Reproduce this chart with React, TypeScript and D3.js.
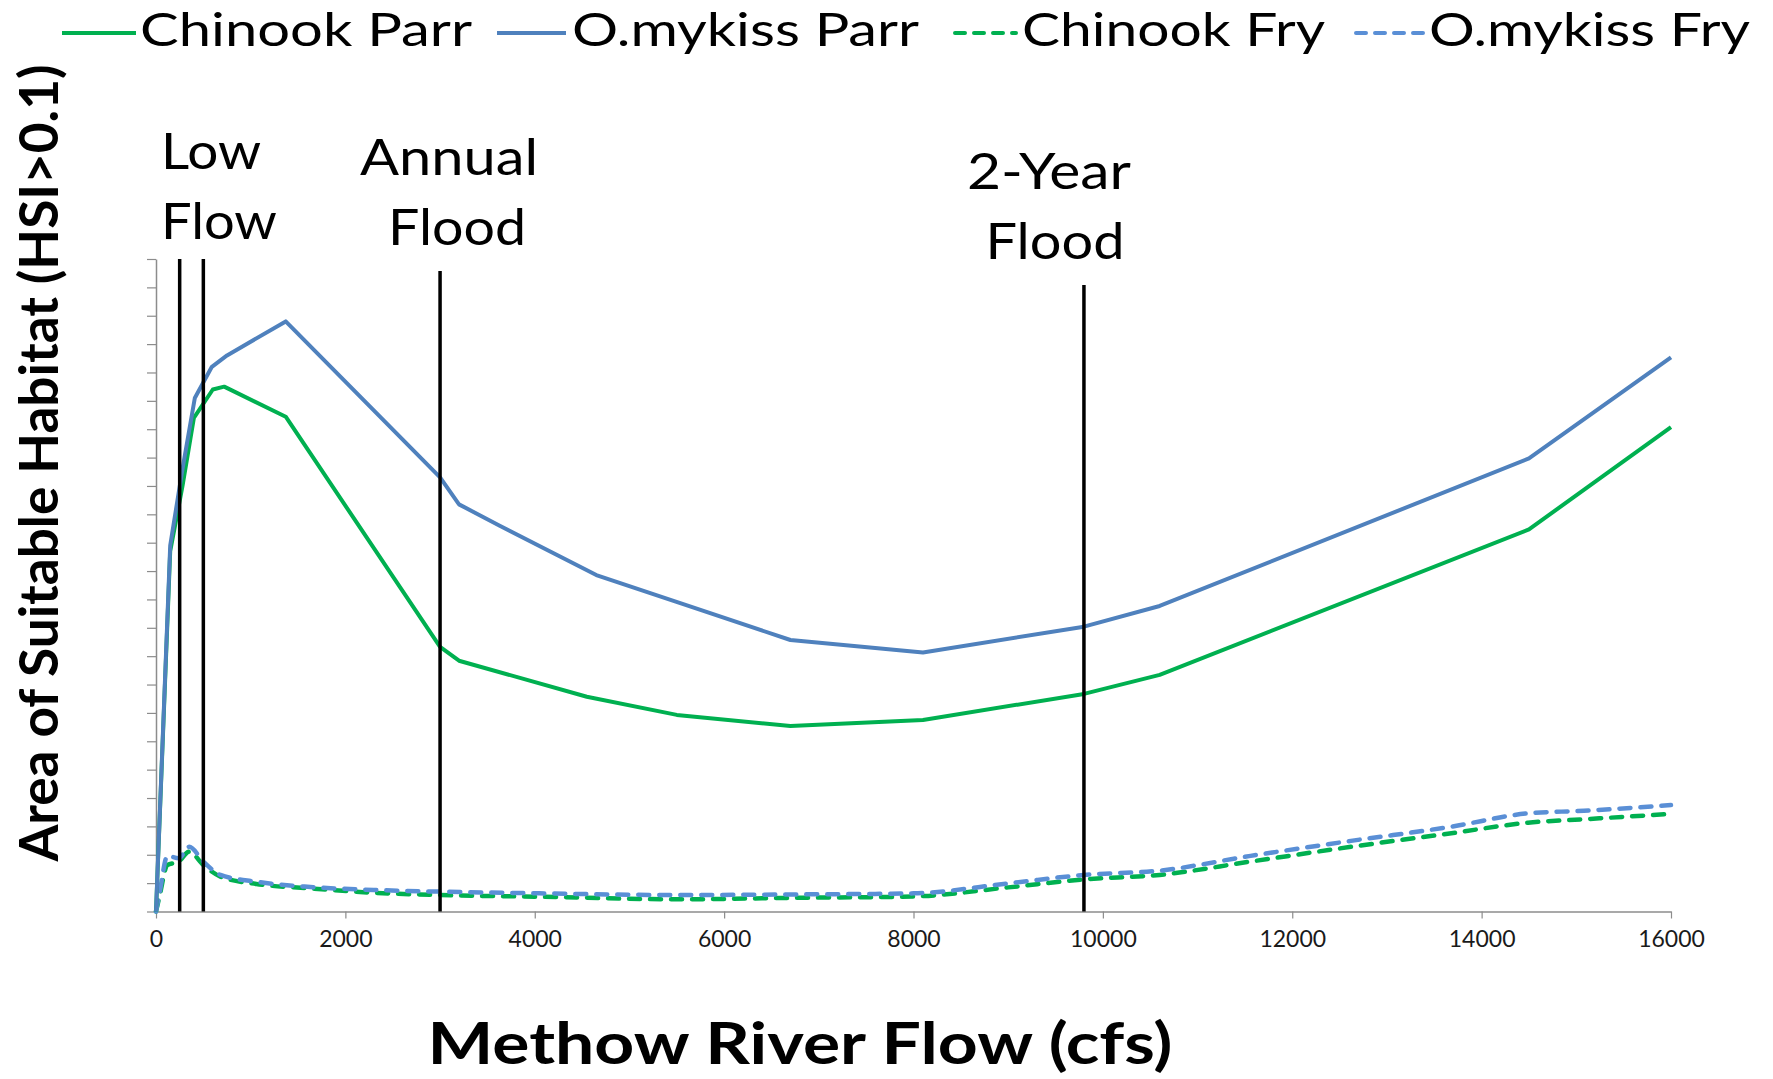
import React, { useEffect, useRef } from 'react';
import * as d3 from 'd3';

// Flow (cfs) sample points
const parrFlowChinook = [0, 150, 280, 400, 600, 720, 1370, 3000, 3200, 4550, 5500, 6700, 8100, 9800, 10600, 14500, 16000];
const chinookParr = [0, 12.7, 15.0, 17.4, 18.4, 18.5, 17.44, 9.33, 8.84, 7.57, 6.93, 6.54, 6.75, 7.67, 8.34, 13.47, 17.07];

const parrFlowMykiss = [0, 150, 280, 410, 590, 750, 1370, 3000, 3200, 3630, 4650, 5600, 6700, 8100, 9800, 10600, 14500, 16000];
const mykissParr = [0, 12.9, 15.6, 18.1, 19.2, 19.6, 20.8, 15.3, 14.35, 13.6, 11.86, 10.8, 9.57, 9.13, 10.04, 10.77, 15.97, 19.53];

const fryFlow = [0, 40, 120, 240, 350, 500, 680, 1060, 1600, 2300, 3000, 4050, 5500, 6700, 8000, 9000, 9800, 10600, 11560, 12620, 13680, 14490, 15080, 16000];
const chinookFry = [0, 0.58, 1.64, 1.76, 2.11, 1.64, 1.23, 0.97, 0.82, 0.66, 0.58, 0.52, 0.43, 0.48, 0.53, 0.85, 1.13, 1.29, 1.76, 2.28, 2.76, 3.13, 3.25, 3.44];
const mykissFry = [0, 0.7, 1.96, 1.88, 2.28, 1.76, 1.29, 1.05, 0.87, 0.76, 0.70, 0.64, 0.58, 0.60, 0.64, 0.99, 1.29, 1.44, 1.96, 2.49, 2.99, 3.46, 3.55, 3.75];

const xTicks = [0, 2000, 4000, 6000, 8000, 10000, 12000, 14000, 16000];

// reference flows
const lowFlows = [250, 500];
const annualFlood = 3000;
const twoYearFlood = 9800;

const GREEN = '#00b050';
const BLUE = '#4f81bd';
const BLUE_DASH = '#5a8fd6';
const AXIS = '#8c8c8c';
const FONT = 'Lato, "Open Sans", sans-serif';

const App: React.FC = () => {
  const svgRef = useRef<SVGSVGElement>(null);

  useEffect(() => {
    if (!svgRef.current) return;
    const svg = d3.select(svgRef.current);
    svg.selectAll('*').remove();

    const x = d3.scaleLinear().domain([0, 16000]).range([156, 1671]);
    const y = d3.scaleLinear().domain([0, 23]).range([911.5, 259]);

    // y axis (no labels, just ticks)
    const gy = svg.append('g')
      .attr('transform', `translate(${x(0)},0)`)
      .call(d3.axisLeft(y).tickValues(d3.range(0, 24)).tickSize(9).tickSizeOuter(0).tickFormat(() => ''));
    gy.select('.domain').attr('stroke', AXIS).attr('stroke-width', 1.5);
    gy.selectAll('.tick line').attr('stroke', AXIS).attr('stroke-width', 1.2);

    // x axis
    const gx = svg.append('g')
      .attr('transform', `translate(0,${y(0)})`)
      .call(d3.axisBottom(x).tickValues(xTicks).tickSize(7).tickSizeOuter(0).tickPadding(12).tickFormat(d => String(d)));
    gx.select('.domain').attr('stroke', AXIS).attr('stroke-width', 1.5);
    gx.selectAll('.tick line').attr('stroke', AXIS).attr('stroke-width', 1.2);
    gx.selectAll('.tick text')
      .attr('fill', '#1a1a1a')
      .style('font-family', FONT)
      .style('font-size', '23px');

    // series
    const line = d3.line<[number, number]>().x(d => x(d[0])).y(d => y(d[1]));
    const smooth = d3.line<[number, number]>().x(d => x(d[0])).y(d => y(d[1])).curve(d3.curveMonotoneX);
    const zip = (a: number[], b: number[]) => a.map((v, i) => [v, b[i]] as [number, number]);

    const series = [
      { pts: zip(fryFlow, chinookFry), color: GREEN, dash: true },
      { pts: zip(fryFlow, mykissFry), color: BLUE_DASH, dash: true },
      { pts: zip(parrFlowChinook, chinookParr), color: GREEN, dash: false },
      { pts: zip(parrFlowMykiss, mykissParr), color: BLUE, dash: false },
    ];
    series.forEach(s => {
      svg.append('path')
        .attr('d', (s.dash ? smooth : line)(s.pts) || '')
        .attr('fill', 'none')
        .attr('stroke', s.color)
        .attr('stroke-width', s.dash ? 4.5 : 4)
        .attr('stroke-linejoin', 'round')
        .attr('stroke-linecap', s.dash ? 'round' : 'butt')
        .attr('stroke-dasharray', s.dash ? '11 10' : null);
    });

    // vertical reference lines
    const refs = [
      ...lowFlows.map(f => ({ flow: f, top: 23 })),
      { flow: annualFlood, top: 22.58 },
      { flow: twoYearFlood, top: 22.08 },
    ];
    svg.selectAll('.ref')
      .data(refs)
      .enter()
      .append('line')
      .attr('x1', d => x(d.flow)).attr('x2', d => x(d.flow))
      .attr('y1', y(0)).attr('y2', d => y(d.top))
      .attr('stroke', '#000')
      .attr('stroke-width', 3.5);

    // annotations
    const notes = [
      { text: 'Low', x: x(0) + 5, y: 169, len: 100, anchor: 'start' },
      { text: 'Flow', x: x(0) + 5, y: 239, len: 116, anchor: 'start' },
      { text: 'Annual', x: x(annualFlood) + 9, y: 175, len: 178, anchor: 'middle' },
      { text: 'Flood', x: x(annualFlood) + 17, y: 245, len: 138, anchor: 'middle' },
      { text: '2-Year', x: x(twoYearFlood) - 35, y: 189, len: 164, anchor: 'middle' },
      { text: 'Flood', x: x(twoYearFlood) - 29, y: 259, len: 139, anchor: 'middle' },
    ];
    svg.selectAll('.note')
      .data(notes)
      .enter()
      .append('text')
      .attr('x', d => d.x)
      .attr('y', d => d.y)
      .attr('text-anchor', d => d.anchor)
      .attr('textLength', d => d.len)
      .attr('lengthAdjust', 'spacingAndGlyphs')
      .style('font-family', FONT)
      .style('font-size', '50px')
      .attr('fill', '#000')
      .text(d => d.text);

    // legend
    const legend = [
      { name: 'Chinook Parr', color: GREEN, dash: false, x0: 62, x1: 136, tx: 140, len: 332 },
      { name: 'O.mykiss Parr', color: BLUE, dash: false, x0: 497, x1: 566, tx: 572, len: 347 },
      { name: 'Chinook Fry', color: GREEN, dash: true, x0: 955, x1: 1016, tx: 1022, len: 303 },
      { name: 'O.mykiss Fry', color: BLUE_DASH, dash: true, x0: 1356, x1: 1423, tx: 1429, len: 321 },
    ];
    const lg = svg.append('g');
    legend.forEach(l => {
      lg.append('line')
        .attr('x1', l.x0).attr('x2', l.x1)
        .attr('y1', 33).attr('y2', 33)
        .attr('stroke', l.color)
        .attr('stroke-width', 4)
        .attr('stroke-linecap', l.dash ? 'round' : 'butt')
        .attr('stroke-dasharray', l.dash ? '10 9' : null);
      lg.append('text')
        .attr('x', l.tx)
        .attr('y', 46)
        .attr('textLength', l.len)
        .attr('lengthAdjust', 'spacingAndGlyphs')
        .style('font-family', FONT)
        .style('font-size', '47px')
        .attr('fill', '#000')
        .text(l.name);
    });

    // axis titles
    svg.append('text')
      .attr('x', 800)
      .attr('y', 1064)
      .attr('text-anchor', 'middle')
      .attr('textLength', 745)
      .attr('lengthAdjust', 'spacingAndGlyphs')
      .style('font-family', FONT)
      .style('font-weight', 'bold')
      .style('font-size', '58px')
      .attr('fill', '#000')
      .text('Methow River Flow (cfs)');

    svg.append('text')
      .attr('transform', 'translate(58,463) rotate(-90)')
      .attr('text-anchor', 'middle')
      .attr('textLength', 797)
      .attr('lengthAdjust', 'spacingAndGlyphs')
      .style('font-family', FONT)
      .style('font-weight', 'bold')
      .style('font-size', '54px')
      .attr('fill', '#000')
      .text('Area of Suitable Habitat (HSI>0.1)');
  }, []);

  return (
    <div style={{ width: 1773, height: 1079, background: '#fff' }}>
      <style>{'body{margin:0;background:#fff}'}</style>
      <svg ref={svgRef} width={1773} height={1079} viewBox="0 0 1773 1079" style={{ display: 'block' }} />
    </div>
  );
};

export default App;
